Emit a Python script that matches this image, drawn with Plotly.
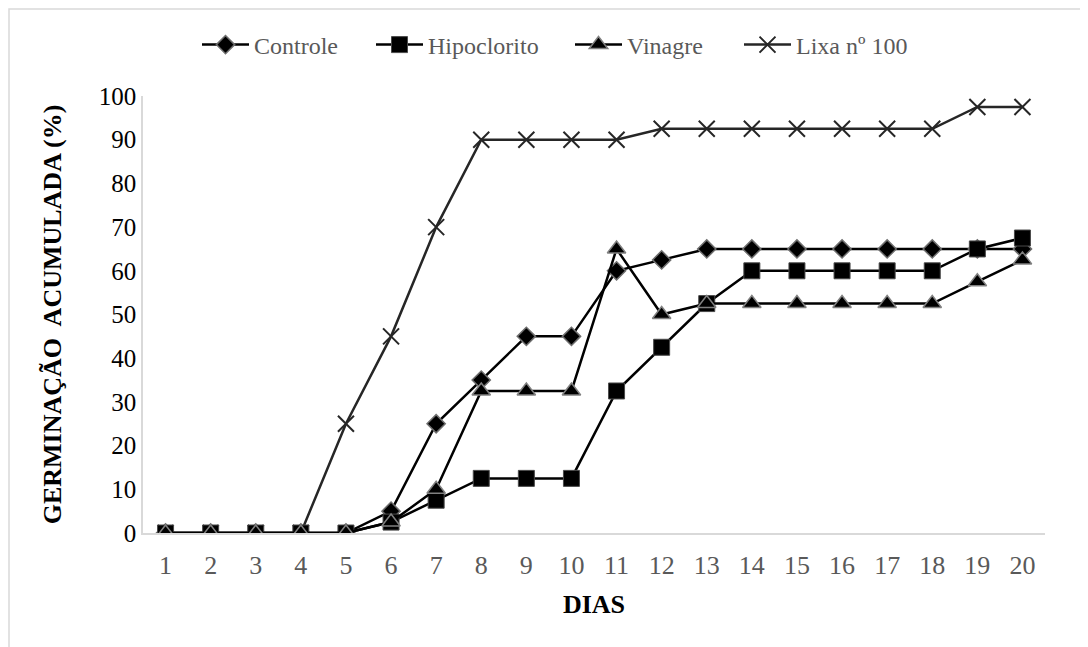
import plotly.graph_objects as go

dias = list(range(1, 21))
controle = [0, 0, 0, 0, 0, 5, 25, 35, 45, 45, 60, 62.5, 65, 65, 65, 65, 65, 65, 65, 65]
hipoclorito = [0, 0, 0, 0, 0, 2.5, 7.5, 12.5, 12.5, 12.5, 32.5, 42.5, 52.5, 60, 60, 60, 60, 60, 65, 67.5]
vinagre = [0, 0, 0, 0, 0, 2.5, 10, 32.5, 32.5, 32.5, 65, 50, 52.5, 52.5, 52.5, 52.5, 52.5, 52.5, 57.5, 62.5]
lixa = [0, 0, 0, 0, 25, 45, 70, 90, 90, 90, 90, 92.5, 92.5, 92.5, 92.5, 92.5, 92.5, 92.5, 97.5, 97.5]
y_ticks = list(range(0, 101, 10))

FONT = "Liberation Serif"
W, H = 1080, 639
L, R, T, B = 135, 43, 88, 114
PW, PH = W - L - R, H - T - B

fig = go.Figure()

fig.add_trace(go.Scatter(x=dias, y=lixa, name="Lixa nº 100", mode="lines+markers",
                         legend="legend4",
                         line=dict(color="#262626", width=2.5),
                         marker=dict(symbol="x-thin-open", size=16, color="#262626",
                                     line=dict(color="#262626", width=2))))
fig.add_trace(go.Scatter(x=dias, y=controle, name="Controle", mode="lines+markers",
                         legend="legend",
                         line=dict(color="black", width=2.5),
                         marker=dict(symbol="diamond", size=14, color="black",
                                     line=dict(color="#6e6e6e", width=1.5))))
fig.add_trace(go.Scatter(x=dias, y=hipoclorito, name="Hipoclorito", mode="lines+markers",
                         legend="legend2",
                         line=dict(color="black", width=2.5),
                         marker=dict(symbol="square", size=16, color="black",
                                     line=dict(color="#4a4a4a", width=1))))
fig.add_trace(go.Scatter(x=dias, y=vinagre, name="Vinagre", mode="lines+markers",
                         legend="legend3",
                         line=dict(color="black", width=2.5),
                         marker=dict(symbol="triangle-up", size=16, color="black",
                                     line=dict(color="#808080", width=1.5))))

leg_y = 1 + (T - 37) / PH
def leg(px):
    return dict(orientation="h", x=(px - L) / PW, xanchor="left", y=leg_y, yanchor="middle",
                font=dict(family=FONT, size=24, color="#595959", weight="normal"),
                bgcolor="rgba(0,0,0,0)", itemwidth=47, visible=True)

fig.update_layout(
    width=W, height=H, showlegend=True,
    margin=dict(l=L, r=R, t=T, b=B, autoexpand=False),
    paper_bgcolor="white", plot_bgcolor="white",
    font=dict(family=FONT, size=24, color="#595959"),
    legend=leg(189), legend2=leg(363), legend3=leg(562), legend4=leg(731),
    xaxis=dict(range=[0.5, 20.5], tickvals=dias, ticktext=[str(d) for d in dias],
               showline=True, linecolor="#d9d9d9", linewidth=1.5, showgrid=False,
               zeroline=False, ticks="", ticklabelstandoff=8,
               tickfont=dict(family=FONT, size=26, color="#595959"),
               title=dict(text="<b>DIAS</b>", font=dict(family=FONT, size=26, color="black"),
                          standoff=16)),
    yaxis=dict(range=[0, 100], tickvals=y_ticks, showline=True, linecolor="#d9d9d9",
               linewidth=1.5, showgrid=False, zeroline=False, ticks="",
               tickfont=dict(family=FONT, size=25, color="black"),
               title=dict(text="<b>GERMINAÇÃO  ACUMULADA (%)</b>",
                          font=dict(family=FONT, size=26, color="black"), standoff=30)),
    shapes=[dict(type="rect", xref="paper", yref="paper",
                 x0=(1 - L) / PW, x1=(W + 20 - L) / PW,
                 y0=-(B + 20) / PH, y1=1 + (T - 1) / PH,
                 line=dict(color="#d9d9d9", width=1.5), layer="below")],
)

fig.write_html("out.html")
